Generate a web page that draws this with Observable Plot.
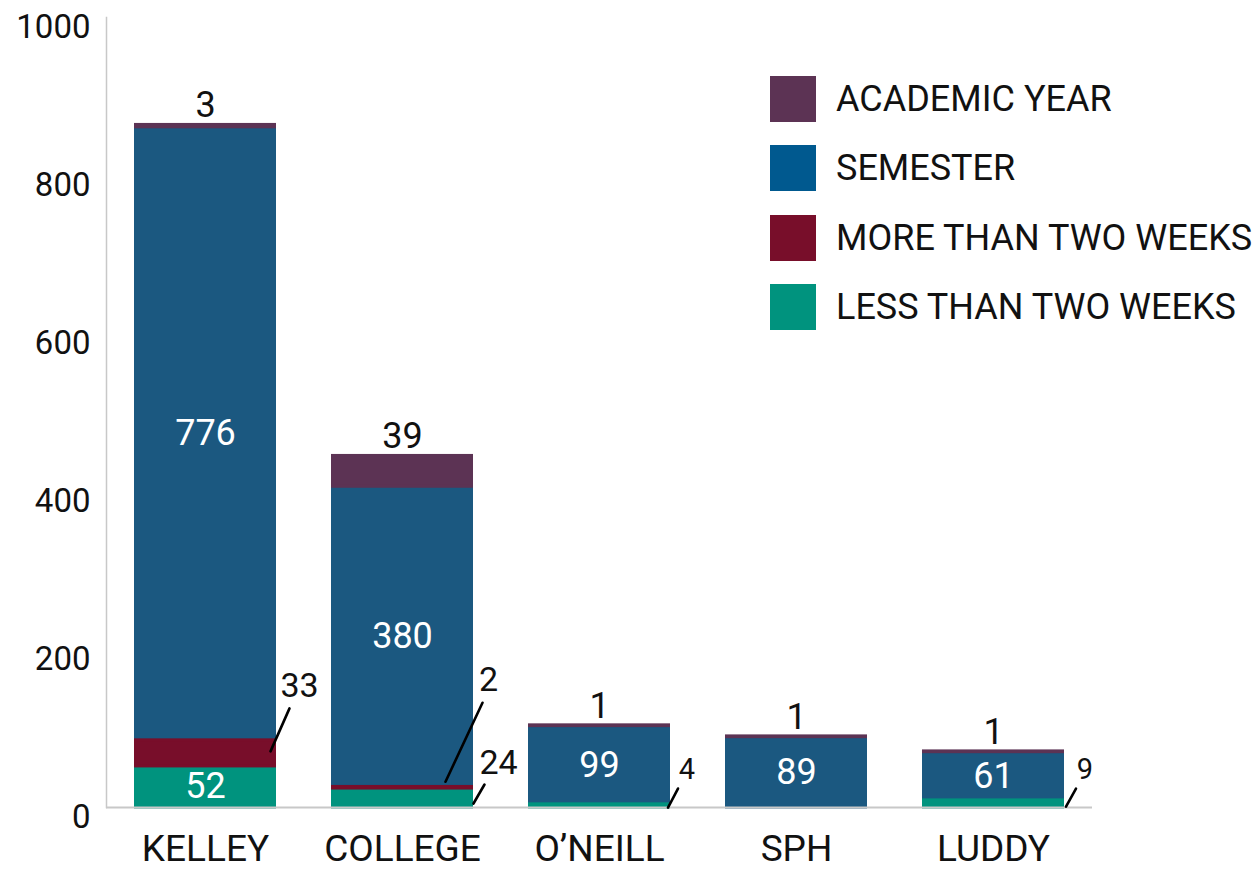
<!DOCTYPE html>
<html><head><meta charset="utf-8">
<script src="https://cdn.jsdelivr.net/npm/d3@7"></script>
<script src="https://cdn.jsdelivr.net/npm/@observablehq/plot@0.6"></script>
<style>
body{margin:0;background:#fff;font-family:Roboto, sans-serif;}
#wrap{position:relative;width:1255px;height:871px;}
.legend{position:absolute;left:770px;top:76px;}
.row{display:flex;align-items:center;height:46px;margin-bottom:23.3px;}
.sw{width:46px;height:46px;margin-right:20px;flex:none;}
.lab{font-size:36px;color:#111;white-space:nowrap;}
</style></head><body><div id="wrap"></div>
<script>
// ---- data ----
const schools = ["KELLEY", "COLLEGE", "O’NEILL", "SPH", "LUDDY"];
const seriesNames = ["LESS THAN TWO WEEKS", "MORE THAN TWO WEEKS", "SEMESTER", "ACADEMIC YEAR"];
const lessThanTwoWeeks = [52, 24, 4, 0, 9];
const moreThanTwoWeeks = [33, 2, 0, 0, 0];
const semester = [776, 380, 99, 89, 61];
const academicYear = [3, 39, 1, 1, 1];
const yTicks = [0, 200, 400, 600, 800, 1000];
const legendOrder = ["ACADEMIC YEAR", "SEMESTER", "MORE THAN TWO WEEKS", "LESS THAN TWO WEEKS"];
// segments labelled with a leader line
const leaderSchools = ["KELLEY", "COLLEGE", "COLLEGE", "O’NEILL", "LUDDY"];
const leaderSeries = ["MORE THAN TWO WEEKS", "MORE THAN TWO WEEKS", "LESS THAN TWO WEEKS", "LESS THAN TWO WEEKS", "LESS THAN TWO WEEKS"];

// ---- styles ----
const barColors = ["#00937e", "#780e2a", "#1b5880", "#5c3354"];
const legendColors = {"ACADEMIC YEAR": "#5c3354", "SEMESTER": "#00598f", "MORE THAN TWO WEEKS": "#780e2a", "LESS THAN TWO WEEKS": "#00937e"};
// drawing order of the segments (stacking order is seriesNames)
const drawOrder = ["SEMESTER", "ACADEMIC YEAR", "LESS THAN TWO WEEKS", "MORE THAN TWO WEEKS"];
// per-leader geometry in pixels: start offset, end offset, label offset (relative to bar centre / segment middle), font size
const leaderGeom = [
  {sx: 65, sy: -2, ex: 84, ey: -45, lx: 94, ly: -67, fs: 34},
  {sx: 43, sy: -6, ex: 80, ey: -85, lx: 86, ly: -108, fs: 34},
  {sx: 71, sy: 5.5, ex: 82, ey: -13.5, lx: 96, ly: -34.5, fs: 34},
  {sx: 68.5, sy: 1.6, ex: 78.5, ey: -17.4, lx: 87.5, ly: -36.4, fs: 29},
  {sx: 72.5, sy: 2.6, ex: 82.5, ey: -15.4, lx: 91.5, ly: -34.4, fs: 29}
];

const seriesValues = [lessThanTwoWeeks, moreThanTwoWeeks, semester, academicYear];
const rows = [];
schools.forEach((s, i) => seriesNames.forEach((n, j) => rows.push({school: s, series: n, value: seriesValues[j][i]})));
const barRows = rows.filter(d => d.value > 0)
  .sort((a, b) => drawOrder.indexOf(a.series) - drawOrder.indexOf(b.series));

const stackOpts = {x: "school", y: "value", z: "series", order: seriesNames};
const insideLabel = d => (d.series === "SEMESTER" || (d.series === "LESS THAN TWO WEEKS" && d.value >= 40)) ? String(d.value) : null;
const topLabel = d => d.series === "ACADEMIC YEAR" ? String(d.value) : null;

const lineShape = {draw(context, l) { context.moveTo(0, 0); context.lineTo(0, -l); }};

const leaderMarks = [];
leaderSchools.forEach((s, k) => {
  const i = schools.indexOf(s);
  const j = seriesNames.indexOf(leaderSeries[k]);
  let base = 0;
  for (let q = 0; q < j; q++) base += seriesValues[q][i];
  const v = seriesValues[j][i];
  const d = [{school: s, mid: base + v / 2, label: String(v)}];
  const g = leaderGeom[k];
  const ddx = g.ex - g.sx, ddy = g.ey - g.sy;
  leaderMarks.push(Plot.vector(d, {x: "school", y: "mid", dx: g.sx, dy: g.sy, anchor: "start",
    length: Math.hypot(ddx, ddy), rotate: Math.atan2(ddx, -ddy) * 180 / Math.PI,
    shape: lineShape, stroke: "#000", strokeWidth: 2.6}));
  leaderMarks.push(Plot.text(d, {x: "school", y: "mid", text: "label", dx: g.lx, dy: g.ly, fontSize: g.fs, fill: "#111"}));
});

const chart = Plot.plot({
  width: 1255, height: 871,
  marginLeft: 106, marginRight: 163, marginTop: 17, marginBottom: 64,
  style: {fontFamily: "Roboto, sans-serif", background: "#fff", color: "#111"},
  x: {domain: schools, paddingInner: 0.28, paddingOuter: 0.14, label: null},
  y: {domain: [0, 1000], label: null},
  color: {domain: seriesNames, range: barColors},
  marks: [
    Plot.frame({anchor: "left", stroke: "#c8c8c8", strokeWidth: 1.5}),
    Plot.barY(barRows, Plot.stackY({...stackOpts, fill: "series", stroke: "series", strokeWidth: 3, insetLeft: 1.5, insetRight: 1.5})),
    Plot.ruleY([0], {stroke: "#c8c8c8", strokeWidth: 2}),
    Plot.text(rows, Plot.stackY({...stackOpts, text: insideLabel, fill: "white", fontSize: 36})),
    Plot.text(rows, Plot.stackY2({...stackOpts, text: topLabel, fill: "#111", fontSize: 36, dy: -19})),
    ...leaderMarks,
    Plot.axisY({ticks: yTicks, tickFormat: d => String(d), tickSize: 0, tickPadding: 16, fontSize: 33, dy: 10, label: null, fill: "#111"}),
    Plot.axisX({tickSize: 0, tickPadding: 27, fontSize: 37, label: null, fill: "#111"})
  ]
});

const wrap = document.getElementById("wrap");
wrap.appendChild(chart);
const leg = document.createElement("div");
leg.className = "legend";
legendOrder.forEach(n => {
  const r = document.createElement("div"); r.className = "row";
  const sw = document.createElement("div"); sw.className = "sw"; sw.style.background = legendColors[n];
  const lb = document.createElement("div"); lb.className = "lab"; lb.textContent = n;
  r.appendChild(sw); r.appendChild(lb); leg.appendChild(r);
});
wrap.appendChild(leg);
</script></body></html>
